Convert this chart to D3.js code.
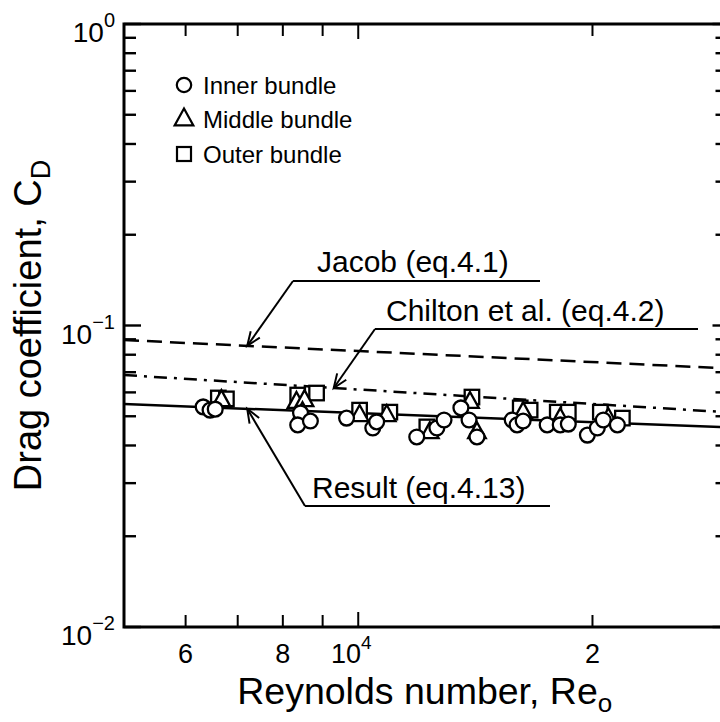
<!DOCTYPE html>
<html>
<head>
<meta charset="utf-8">
<script src="https://cdn.jsdelivr.net/npm/d3@7"></script>
<style>
  html, body { margin: 0; padding: 0; background: #fff; }
  svg { display: block; }
  text { font-family: "Liberation Sans", Arial, Helvetica, sans-serif; fill: #000; }
</style>
</head>
<body>
<svg id="chart" width="720" height="722"></svg>
<script>
// ---- data ----------------------------------------------------------------
// Inner bundle (circles)
const innerRe = [6320, 6450, 6550, 8430, 8360, 8680, 9660, 10440, 10560, 11890, 12620, 12890,
                 13550, 13880, 14210, 15770, 16000, 16290, 17490, 18180, 18620, 19700, 20290, 20650, 21530];
const innerCd = [0.0537, 0.0524, 0.0528, 0.0513, 0.0468, 0.0482, 0.0493, 0.0457, 0.0479, 0.0427, 0.0457, 0.0486,
                 0.0533, 0.0486, 0.0427, 0.0486, 0.0468, 0.0482, 0.0468, 0.0468, 0.0471, 0.0433, 0.0457, 0.0486, 0.0468];
// Middle bundle (triangles)
const middleRe = [6670, 8330, 8530, 8480, 10040, 10880, 12360, 13920, 14210, 16290, 18180, 20960];
const middleCd = [0.0566, 0.0558, 0.0566, 0.0516, 0.0505, 0.0505, 0.0443, 0.0558, 0.0443, 0.0516, 0.0493, 0.0493];
// Outer bundle (squares)
const outerRe = [6610, 6770, 8360, 8840, 10040, 10980, 12250, 14000, 16150, 16630, 18020, 18620, 20470, 21850];
const outerCd = [0.0575, 0.0571, 0.0588, 0.0597, 0.0524, 0.0516, 0.0461, 0.0579, 0.0533, 0.0524, 0.0516, 0.0516, 0.0516, 0.0493];

// Correlation lines (straight in log-log, given by end points)
const jacobRe = [5000, 30000],   jacobCd = [0.0895, 0.0720];
const chiltonRe = [5000, 30000], chiltonCd = [0.0685, 0.0515];
const resultRe = [5000, 30000],  resultCd = [0.0549, 0.0459];

// Axis ticks and labels
const xMinorTicks = [6000, 7000, 8000, 9000, 10000, 20000];
const xTickLabels = [{v: 6000, t: "6"}, {v: 8000, t: "8"}, {v: 10000, t: "10", sup: "4"}, {v: 20000, t: "2"}];
const yMajorTicks = [1, 0.1, 0.01];
const yMinorTicks = [0.02,0.03,0.04,0.05,0.06,0.07,0.08,0.09,0.2,0.3,0.4,0.5,0.6,0.7,0.8,0.9];
const yTickLabels = [{v: 1, sup: "0"}, {v: 0.1, sup: "\u22121"}, {v: 0.01, sup: "\u22122"}];

const legendItems = ["Inner bundle", "Middle bundle", "Outer bundle"];
const annotationLabels = ["Jacob (eq.4.1)", "Chilton et al. (eq.4.2)", "Result (eq.4.13)"];
const annotationRe = [7200, 9300, 7200];

// ---- scales --------------------------------------------------------------
const svg = d3.select("#chart");
const x = d3.scaleLog().domain([5000, 30000]).range([124, 729.5]);
const y = d3.scaleLog().domain([0.01, 1]).range([627, 24]);
const [x0, x1] = x.range();
const [y0, y1] = y.range();

// clip to plotting area
svg.append("defs").append("clipPath").attr("id", "plotClip")
  .append("rect").attr("x", x0).attr("y", y1).attr("width", x1 - x0).attr("height", y0 - y1);

// ---- axes frame and ticks -----------------------------------------------
const frame = svg.append("g").attr("stroke", "#000").attr("fill", "none");
frame.append("rect").attr("x", x0).attr("y", y1).attr("width", x1 - x0).attr("height", y0 - y1)
  .attr("stroke-width", 3);

// y ticks (left and right, inward)
yMajorTicks.forEach(v => {
  frame.append("line").attr("x1", x0).attr("x2", x0 + 17).attr("y1", y(v)).attr("y2", y(v)).attr("stroke-width", 2.4);
  frame.append("line").attr("x1", x1).attr("x2", x1 - 17).attr("y1", y(v)).attr("y2", y(v)).attr("stroke-width", 2.4);
});
yMinorTicks.forEach(v => {
  frame.append("line").attr("x1", x0).attr("x2", x0 + 12).attr("y1", y(v)).attr("y2", y(v)).attr("stroke-width", 2.4);
  frame.append("line").attr("x1", x1).attr("x2", x1 - 14).attr("y1", y(v)).attr("y2", y(v)).attr("stroke-width", 2.4);
});
// x ticks (bottom and top, inward)
xMinorTicks.forEach(v => {
  const len = v === 10000 ? 15 : 12;
  frame.append("line").attr("x1", x(v)).attr("x2", x(v)).attr("y1", y0).attr("y2", y0 - len).attr("stroke-width", 2);
  frame.append("line").attr("x1", x(v)).attr("x2", x(v)).attr("y1", y1).attr("y2", y1 + len).attr("stroke-width", 2);
});

// tick labels
yTickLabels.forEach(d => {
  const t = svg.append("text").attr("x", 115).attr("y", y(d.v) + 18)
    .attr("text-anchor", "end").attr("font-size", 28).text("10");
  t.append("tspan").attr("dy", -15).attr("font-size", 20).text(d.sup);
});
xTickLabels.forEach(d => {
  const t = svg.append("text").attr("x", x(d.v) + (d.sup ? -7 : 0)).attr("y", 663)
    .attr("text-anchor", "middle").attr("font-size", 27).text(d.t);
  if (d.sup) t.append("tspan").attr("dy", -14).attr("font-size", 19).text(d.sup);
});

// axis titles
const xt = svg.append("text").attr("x", (x0 + x1) / 2 - 2).attr("y", 704)
  .attr("text-anchor", "middle").attr("font-size", 37.5).text("Reynolds number, Re");
xt.append("tspan").attr("dy", 8).attr("font-size", 26).text("o");

const yt = svg.append("text").attr("transform", `translate(41,${(y0 + y1) / 2}) rotate(-90)`)
  .attr("text-anchor", "middle").attr("font-size", 38).text("Drag coefficient, C");
yt.append("tspan").attr("dy", 9).attr("font-size", 27).text("D");

// ---- correlation lines ---------------------------------------------------
const plot = svg.append("g").attr("clip-path", "url(#plotClip)");
const lineGen = d3.line().x(d => x(d[0])).y(d => y(d[1]));
const curves = [
  {re: jacobRe, cd: jacobCd, dash: "15,8"},
  {re: chiltonRe, cd: chiltonCd, dash: "13,7,3,7"},
  {re: resultRe, cd: resultCd, dash: null}
];
curves.forEach(c => {
  plot.append("path").datum(d3.zip(c.re, c.cd)).attr("d", lineGen)
    .attr("fill", "none").attr("stroke", "#000").attr("stroke-width", 2.5)
    .attr("stroke-dasharray", c.dash);
});

// value of a correlation at a given Re (straight line in log-log)
function curveAt(c, re) {
  const t = (Math.log(re) - Math.log(c.re[0])) / (Math.log(c.re[1]) - Math.log(c.re[0]));
  return Math.exp(Math.log(c.cd[0]) + t * (Math.log(c.cd[1]) - Math.log(c.cd[0])));
}

// ---- data markers --------------------------------------------------------
const mk = svg.append("g").attr("stroke", "#000").attr("stroke-width", 2.3).attr("fill", "#fff");
const sq = 14.5;
mk.selectAll("rect.outer").data(d3.zip(outerRe, outerCd)).join("rect").attr("class", "outer")
  .attr("x", d => x(d[0]) - sq / 2).attr("y", d => y(d[1]) - sq / 2).attr("width", sq).attr("height", sq);
const triPath = s => `M0,${-s * 0.62}L${s * 0.55},${s * 0.38}L${-s * 0.55},${s * 0.38}Z`;
mk.selectAll("path.middle").data(d3.zip(middleRe, middleCd)).join("path").attr("class", "middle")
  .attr("transform", d => `translate(${x(d[0])},${y(d[1])})`).attr("d", triPath(16));
mk.selectAll("circle.inner").data(d3.zip(innerRe, innerCd)).join("circle").attr("class", "inner")
  .attr("cx", d => x(d[0])).attr("cy", d => y(d[1])).attr("r", 7.4);

// ---- legend --------------------------------------------------------------
const lg = svg.append("g");
const lgY = [85, 119, 154];
lg.append("circle").attr("cx", 184).attr("cy", lgY[0]).attr("r", 7.2)
  .attr("fill", "#fff").attr("stroke", "#000").attr("stroke-width", 2.2);
lg.append("path").attr("transform", `translate(184,${lgY[1]})`).attr("d", triPath(17))
  .attr("fill", "#fff").attr("stroke", "#000").attr("stroke-width", 2.2);
lg.append("rect").attr("x", 177).attr("y", lgY[2] - 7).attr("width", 14).attr("height", 14)
  .attr("fill", "#fff").attr("stroke", "#000").attr("stroke-width", 2.2);
legendItems.forEach((t, i) => {
  lg.append("text").attr("x", 203).attr("y", lgY[i] + 8.5).attr("font-size", 24).text(t);
});

// ---- annotations ---------------------------------------------------------
const ann = svg.append("g");
const annText = [{x: 317, y: 272}, {x: 386, y: 321}, {x: 312, y: 498}];
const annRule = [{x1: 293, x2: 540, y: 281}, {x1: 375, x2: 698, y: 329}, {x1: 305, x2: 550, y: 506}];
annotationLabels.forEach((label, i) => {
  ann.append("text").attr("x", annText[i].x).attr("y", annText[i].y).attr("font-size", 30).text(label);
  const r = annRule[i];
  ann.append("line").attr("x1", r.x1).attr("x2", r.x2).attr("y1", r.y).attr("y2", r.y)
    .attr("stroke", "#000").attr("stroke-width", 2);
  const tx = x(annotationRe[i]), ty = y(curveAt(curves[i], annotationRe[i]));
  ann.append("line").attr("x1", r.x1).attr("y1", r.y).attr("x2", tx).attr("y2", ty)
    .attr("stroke", "#000").attr("stroke-width", 2);
  // open arrow head
  const ang = Math.atan2(r.y - ty, r.x1 - tx);
  const L = 15, h = 0.38;
  const p1 = [tx + L * Math.cos(ang + h), ty + L * Math.sin(ang + h)];
  const p2 = [tx + L * Math.cos(ang - h), ty + L * Math.sin(ang - h)];
  ann.append("path").attr("d", `M${p1}L${tx},${ty}L${p2}`)
    .attr("fill", "none").attr("stroke", "#000").attr("stroke-width", 2);
});
</script>
</body>
</html>
